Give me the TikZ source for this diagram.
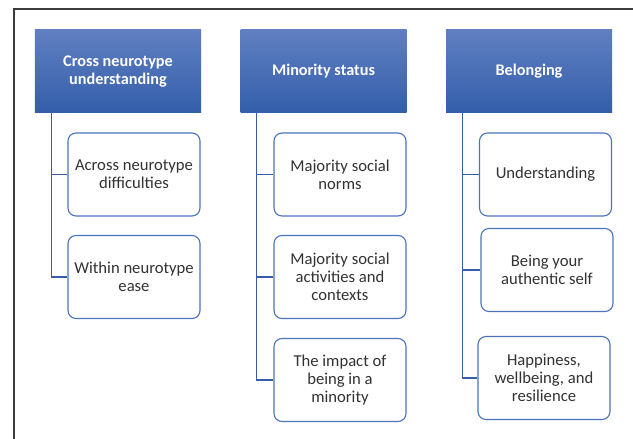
\documentclass[tikz,border=0pt]{standalone}
\usepackage{fontspec}
\setmainfont{Carlito}
\definecolor{headtop}{RGB}{96,127,193}
\definecolor{headbot}{RGB}{51,94,170}
\definecolor{boxline}{RGB}{75,115,190}
\definecolor{linkblue}{RGB}{55,93,168}
\definecolor{frame}{RGB}{60,60,60}
\definecolor{txtgray}{RGB}{50,50,50}
\tikzset{
head/.style={rectangle, minimum width=166bp, minimum height=83bp, inner sep=0pt, top color=headtop, bottom color=headbot, text=white, align=center, font=\fontsize{16.3}{18.5}\selectfont\bfseries},
sub/.style={rectangle, rounded corners=8bp, draw=boxline, line width=1.1bp, fill=white, minimum width=132bp, minimum height=83bp, inner sep=0pt, text=txtgray, align=center, font=\fontsize{16.7}{18.3}\selectfont},
link/.style={draw=linkblue, line width=1.2bp}
}
\begin{document}
\begin{tikzpicture}[x=1bp,y=-1bp]

\useasboundingbox (0,0) rectangle (633,439);
\fill[white] (0,0) rectangle (633,439);
\draw[color=frame, line width=1.3bp] (14,445) -- (14,9) -- (640,9);

\node[head](h1) at (118,71.5) {Cross neurotype\\understanding};
\node[head](h2) at (323.5,71.5) {Minority status};
\node[head](h3) at (529,71.5) {Belonging};

\node[sub](c11) at (134,174.5) {Across neurotype\\difficulties};
\node[sub](c12) at (134,277) {Within neurotype\\ease};

\node[sub](c21) at (340,174.5) {Majority social\\norms};
\node[sub](c22) at (340,277) {Majority social\\activities and\\contexts};
\node[sub](c23) at (340,380) {The impact of\\being in a\\minority};

\node[sub](c31) at (545.5,174.5) {Understanding};
\node[sub](c32) at (547,270) {Being your\\authentic self};
\node[sub](c33) at (544,378) {Happiness,\\wellbeing, and\\resilience};

\draw[link] ([xshift=17bp]h1.south west) |- (c11.west) ([xshift=17bp]h1.south west) |- (c12.west);
\draw[link] ([xshift=16bp]h2.south west) |- (c21.west) ([xshift=16bp]h2.south west) |- (c22.west) ([xshift=16bp]h2.south west) |- (c23.west);
\draw[link] ([xshift=17bp]h3.south west) |- (c31.west) ([xshift=17bp]h3.south west) |- (c32.west) ([xshift=17bp]h3.south west) |- (c33.west);

\end{tikzpicture}
\end{document}
